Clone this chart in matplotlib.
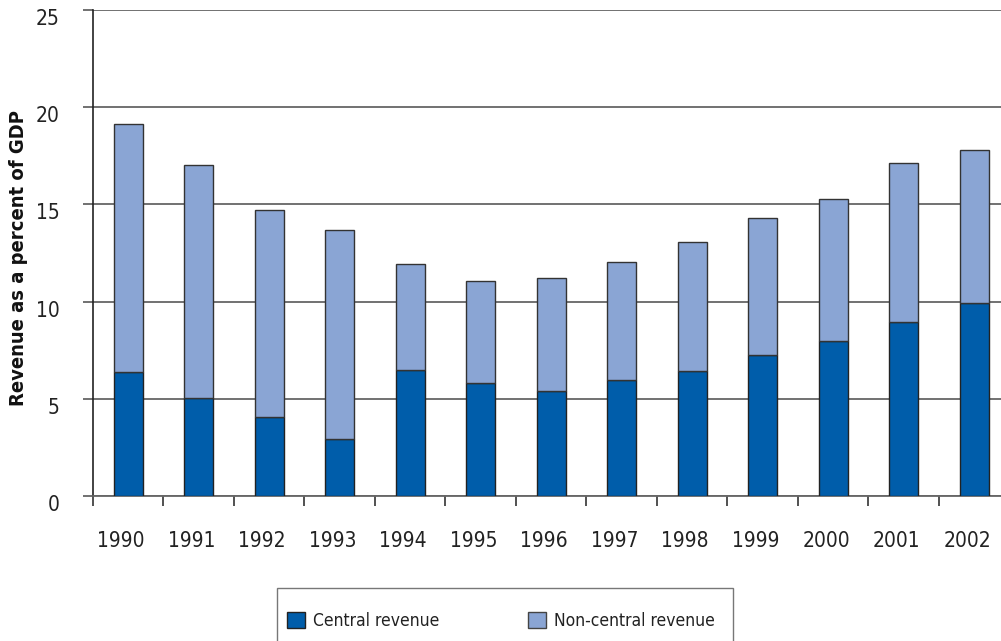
import numpy as np
import matplotlib.pyplot as plt
import matplotlib.transforms as mtransforms
from matplotlib.patches import Patch, Rectangle

plt.rcParams['font.family'] = ['DejaVu Sans']
plt.rcParams['font.stretch'] = 'condensed'

# Revenue as a percent of GDP
years = ['1990', '1991', '1992', '1993', '1994', '1995', '1996',
         '1997', '1998', '1999', '2000', '2001', '2002']
central = [6.4, 5.05, 4.05, 2.95, 6.5, 5.8, 5.4, 5.95, 6.45, 7.25, 7.95, 8.95, 9.95]
total = [19.15, 17.05, 14.7, 13.7, 11.95, 11.05, 11.2, 12.05, 13.05, 14.3, 15.3, 17.15, 17.8]
noncentral = [t - c for t, c in zip(total, central)]

fig = plt.figure(figsize=(10.01, 6.41), dpi=100)
ax = fig.add_axes([93 / 1001, 145 / 641, 908 / 1001, 486 / 641])

x = np.arange(len(years))
ax.bar(x, central, width=0.41, color='#005DAA', edgecolor='#222222', linewidth=1.0,
       label='Central revenue', zorder=3)
ax.bar(x, noncentral, bottom=central, width=0.41, color='#8AA5D4', edgecolor='#333333',
       linewidth=1.0, label='Non-central revenue', zorder=3)

ax.set_xlim(-0.5, 12.38)
ax.set_ylim(0, 25)
ax.set_yticks([0, 5, 10, 15, 20, 25])
ax.yaxis.grid(True, color='#666666', linewidth=1.3, zorder=0)
ax.set_axisbelow(True)

# minor ticks between categories, labels at category centres
ax.set_xticks(x)
ax.set_xticklabels(years)
ax.set_xticks(np.arange(-0.5, 12.5, 1), minor=True)
ax.tick_params(axis='x', which='major', length=0, pad=25, labelsize=15, labelcolor='#222222')
ax.tick_params(axis='x', which='minor', length=7, width=1.2, color='#333333')
ax.tick_params(axis='y', length=7, width=1.3, color='#666666', labelsize=15, pad=17,
               labelcolor='#222222')
shift_x = mtransforms.ScaledTranslation(-7 / 100, 0, fig.dpi_scale_trans)
for lab in ax.get_xticklabels():
    lab.set_transform(lab.get_transform() + shift_x)
shift_y = mtransforms.ScaledTranslation(0, -7 / 100, fig.dpi_scale_trans)
for lab in ax.get_yticklabels():
    lab.set_transform(lab.get_transform() + shift_y)

for s in ['top', 'right']:
    ax.spines[s].set_visible(False)
ax.spines['left'].set_color('#222222')
ax.spines['left'].set_linewidth(1.2)
ax.spines['bottom'].set_color('#666666')
ax.spines['bottom'].set_linewidth(1.3)

ax.set_ylabel('Revenue as a percent of GDP', fontsize=14.5, fontweight='bold', color='#111111')
ax.yaxis.set_label_coords(-65 / 908, 0.49)

# legend box (frame drawn separately, runs off the bottom edge like the original)
fig.patches.append(Rectangle((277 / 1001, -20 / 641), 456 / 1001, 73 / 641,
                             transform=fig.transFigure, facecolor='white',
                             edgecolor='#777777', linewidth=1.0, zorder=0))
handles = [Patch(facecolor='#005DAA', edgecolor='#222222', label='Central revenue'),
           Patch(facecolor='#8AA5D4', edgecolor='#444444', label='Non-central revenue')]
leg = fig.legend(handles=handles, loc='center left',
                 bbox_to_anchor=(287 / 1001, 20 / 641), ncol=2, fontsize=12.5,
                 frameon=False, borderpad=0, borderaxespad=0,
                 handlelength=1.05, handleheight=1.0, handletextpad=0.45,
                 columnspacing=5.1)
for t in leg.get_texts():
    t.set_color('#222222')

fig.savefig('out.png', dpi=100)
